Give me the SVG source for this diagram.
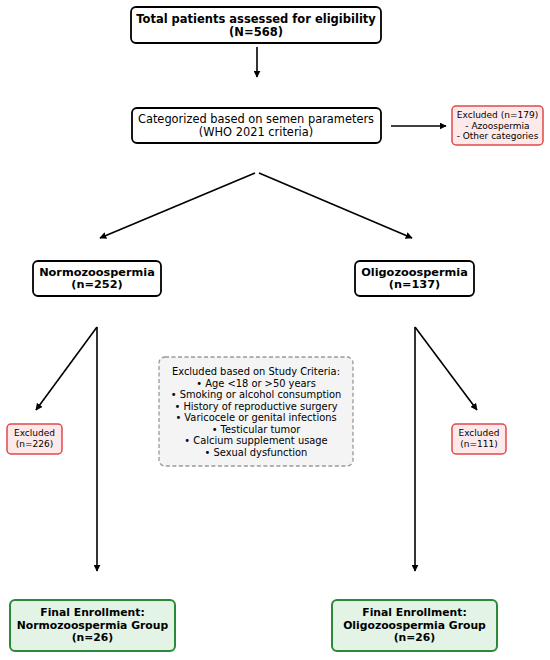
<svg xmlns="http://www.w3.org/2000/svg" width="550" height="660" viewBox="0 0 550 660">
<defs>
<marker id="ah" viewBox="0 0 10 10" refX="9" refY="5" markerWidth="7" markerHeight="7" markerUnits="userSpaceOnUse" orient="auto"><path d="M0,0 L10,5 L0,10 z" fill="#000"/></marker>
<style>
.box{fill:#fff;stroke:#000;stroke-width:1.8}
.ex{fill:#fde9ea;stroke:#e04848;stroke-width:1.5}
.fin{fill:#e3f4e6;stroke:#2a8a3a;stroke-width:2}
.crit{fill:#f4f4f4;stroke:#999;stroke-width:1.3;stroke-dasharray:4,2.5}
text{font-family:"DejaVu Sans",sans-serif;text-anchor:middle;dominant-baseline:central;fill:#000}
.b{font-weight:bold;font-size:11.3px}
.t{font-weight:bold;font-size:11.5px}
.f{font-weight:bold;font-size:10.8px}
.r{font-size:11.4px}
.s{font-size:9px}
.c{font-size:9.9px}
.ln{stroke:#000;stroke-width:1.6;fill:none;marker-end:url(#ah)}
</style>
</defs>
<g id="connectors">
<line class="ln" x1="257" y1="47" x2="257" y2="77"/>
<line class="ln" x1="391" y1="126" x2="446" y2="126"/>
<line class="ln" x1="255" y1="173" x2="100" y2="238"/>
<line class="ln" x1="259" y1="173" x2="412" y2="238"/>
<line class="ln" x1="97" y1="327" x2="97" y2="571"/>
<line class="ln" x1="97" y1="327" x2="36" y2="410"/>
<line class="ln" x1="415" y1="327" x2="415" y2="571"/>
<line class="ln" x1="415" y1="327" x2="477" y2="410"/>
</g>
<g id="total">
<rect class="box" x="131" y="7" width="250" height="36" rx="5"/>
<text class="t" x="256" y="18.5">Total patients assessed for eligibility</text>
<text class="t" x="256" y="32">(N=568)</text>
</g>
<g id="categorized">
<rect class="box" x="132" y="108" width="249" height="35" rx="5"/>
<text class="r" x="256" y="118.5">Categorized based on semen parameters</text>
<text class="r" x="256" y="131.5">(WHO 2021 criteria)</text>
</g>
<g id="excluded179">
<rect class="ex" x="452" y="106" width="91" height="39" rx="4"/>
<text class="s" x="497.5" y="114.5">Excluded (n=179)</text>
<text class="s" x="497.5" y="125.5">- Azoospermia</text>
<text class="s" x="497.5" y="136">- Other categories</text>
</g>
<g id="normo">
<rect class="box" x="33" y="261" width="128" height="35" rx="5"/>
<text class="b" x="97" y="272.5">Normozoospermia</text>
<text class="b" x="97" y="284.5">(n=252)</text>
</g>
<g id="oligo">
<rect class="box" x="355" y="261" width="119" height="35" rx="5"/>
<text class="b" x="414.5" y="272.5">Oligozoospermia</text>
<text class="b" x="414.5" y="284.5">(n=137)</text>
</g>
<g id="excluded226">
<rect class="ex" x="7" y="424" width="55" height="30" rx="4"/>
<text class="s" x="34.5" y="433">Excluded</text>
<text class="s" x="34.5" y="444">(n=226)</text>
</g>
<g id="excluded111">
<rect class="ex" x="452" y="424" width="54" height="30" rx="4"/>
<text class="s" x="479" y="433">Excluded</text>
<text class="s" x="479" y="444">(n=111)</text>
</g>
<g id="criteria">
<rect class="crit" x="159" y="357" width="194" height="109" rx="6"/>
<text class="c" x="256" y="371.5">Excluded based on Study Criteria:</text>
<text class="c" x="256" y="383">• Age &lt;18 or &gt;50 years</text>
<text class="c" x="256" y="394.5">• Smoking or alcohol consumption</text>
<text class="c" x="256" y="406">• History of reproductive surgery</text>
<text class="c" x="256" y="417.5">• Varicocele or genital infections</text>
<text class="c" x="256" y="429">• Testicular tumor</text>
<text class="c" x="256" y="440.5">• Calcium supplement usage</text>
<text class="c" x="256" y="452">• Sexual dysfunction</text>
</g>
<g id="finalNormo">
<rect class="fin" x="10" y="600" width="165" height="51" rx="5"/>
<text class="f" x="92.5" y="612.5">Final Enrollment:</text>
<text class="f" x="92.5" y="625">Normozoospermia Group</text>
<text class="f" x="92.5" y="637.5">(n=26)</text>
</g>
<g id="finalOligo">
<rect class="fin" x="332" y="600" width="165" height="51" rx="5"/>
<text class="f" x="414.5" y="612.5">Final Enrollment:</text>
<text class="f" x="414.5" y="625">Oligozoospermia Group</text>
<text class="f" x="414.5" y="637.5">(n=26)</text>
</g>
</svg>
